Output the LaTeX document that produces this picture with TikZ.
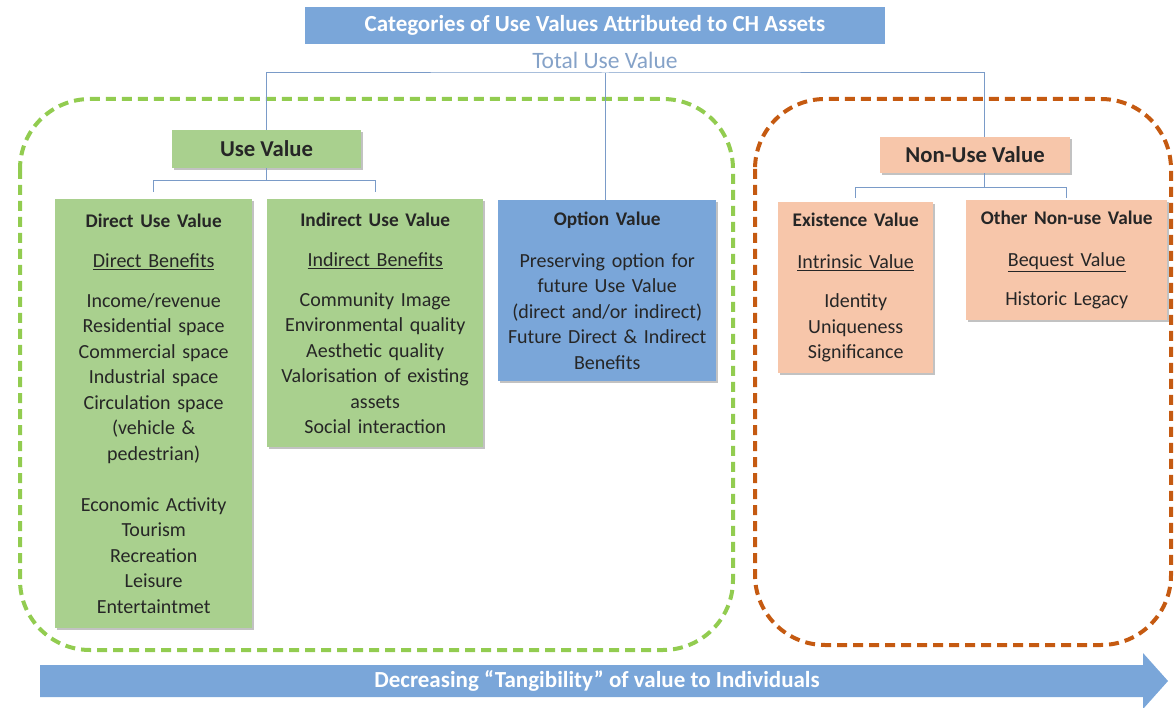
\documentclass[tikz,border=0pt]{standalone}
\usepackage{fontspec}
\setmainfont{Carlito}
\usetikzlibrary{shadows}

\definecolor{boxgreen}{RGB}{169,208,142}
\definecolor{boxblue}{RGB}{122,166,217}
\definecolor{boxorange}{RGB}{247,198,170}
\definecolor{dashgreen}{RGB}{146,204,80}
\definecolor{dashorange}{RGB}{197,90,17}
\definecolor{linkblue}{RGB}{122,155,200}
\definecolor{captionblue}{RGB}{133,162,200}

\tikzset{
  valbox/.style={align=center, inner xsep=5pt, inner ysep=0pt, anchor=north west,
    font=\fontsize{20}{25.5}\selectfont, text=black!85,
    drop shadow={shadow xshift=2pt, shadow yshift=-2pt, fill=black!40, opacity=0.6}},
  usebox/.style={valbox, fill=boxgreen},
  optbox/.style={valbox, fill=boxblue},
  nonbox/.style={valbox, fill=boxorange},
  headbox/.style={valbox, anchor=center, font=\fontsize{22.7}{26}\selectfont\bfseries},
  link/.style={draw=linkblue, line width=1pt},
  group/.style={line width=4pt, dash pattern=on 10pt off 6pt, rounded corners=70pt}
}

\begin{document}
\begin{tikzpicture}[x=1pt,y=-1pt]
  \useasboundingbox (0,0) rectangle (1175,708);

  % dashed groups
  \draw[group, dashgreen]  (20,99) rectangle (733,650);
  \draw[group, dashorange] (755,99) rectangle (1171,645);

  % top
  \node[fill=boxblue, minimum width=580pt, minimum height=37pt, text=white,
        font=\fontsize{23}{26}\selectfont\bfseries] (title) at (595,25.5)
        {Categories of Use Values Attributed to CH Assets};
  \node[text=captionblue, font=\fontsize{23.5}{26}\selectfont] (total) at (605,60) {Total Use Value};
  \coordinate (bar) at (605,73);

  \node[headbox, fill=boxgreen, minimum width=189pt, minimum height=38pt] (usev) at (266.5,149) {Use Value};
  \node[headbox, fill=boxorange, minimum width=190pt, minimum height=36pt] (nonuse) at (975,155) {Non-Use Value};

  % value boxes
  \node[usebox, text width=187pt, minimum height=429pt] (direct) at (55,199)
    {\textbf{\fontsize{19.3}{25.5}\selectfont Direct Use Value}\\[15pt]
     \underline{Direct Benefits}\\[14pt]
     Income/revenue\\ Residential space\\ Commercial space\\ Industrial space\\
     Circulation space\\ (vehicle \&\\ pedestrian)\\[25.5pt]
     Economic Activity\\ Tourism\\ Recreation\\ Leisure\\ Entertaintmet\\[2pt]};
  \node[usebox, text width=206pt, minimum height=248pt] (indirect) at (267,199)
    {\textbf{\fontsize{19.3}{25.5}\selectfont Indirect Use Value}\\[15pt]
     \underline{Indirect Benefits}\\[14pt]
     Community Image\\ Environmental quality\\ Aesthetic quality\\
     Valorisation of existing\\ assets\\ Social interaction};
  \node[optbox, text width=208pt, minimum height=181pt] (option) at (498,200)
    {\textbf{\fontsize{19.3}{25.5}\selectfont Option Value}\\[16pt]
     Preserving option for\\ future Use Value\\ (direct and/or indirect)\\
     Future Direct \& Indirect\\ Benefits};
  \node[nonbox, text width=145pt, minimum height=171pt] (exist) at (778,202)
    {\textbf{\fontsize{19.3}{25.5}\selectfont Existence Value}\\[16pt]
     \underline{Intrinsic Value}\\[14pt]
     Identity\\ Uniqueness\\ Significance};
  \node[nonbox, text width=191pt, minimum height=120pt] (other) at (966,200)
    {\textbf{\fontsize{19.3}{25.5}\selectfont Other Non-use Value}\\[16pt]
     \underline{Bequest Value}\\[14pt]
     Historic Legacy};

  % connectors
  \draw[link] (usev.north) |- (bar) -| ([xshift=9pt]nonuse.north);
  \draw[link] (bar) -- (bar |- option.north);
  \draw[link] (usev.south) -- ++(0,12) coordinate (ubar);
  \draw[link] ([yshift=7pt]direct.north) |- (ubar) -| ([yshift=7pt]indirect.north);
  \draw[link] ([xshift=9pt]nonuse.south) -- ++(0,14) coordinate (nbar);
  \draw[link] ([yshift=4pt]exist.north) |- (nbar) -| ([yshift=2pt]other.north);

  % bottom arrow
  \fill[boxblue] (40,665) -- (1143,665) -- (1143,653) -- (1168,681)
    -- (1143,709) -- (1143,697) -- (40,697) -- cycle;
  \node[text=white, font=\fontsize{23}{26}\selectfont\bfseries] (tangible) at (597,681)
    {Decreasing ``Tangibility'' of value to Individuals};
\end{tikzpicture}
\end{document}
